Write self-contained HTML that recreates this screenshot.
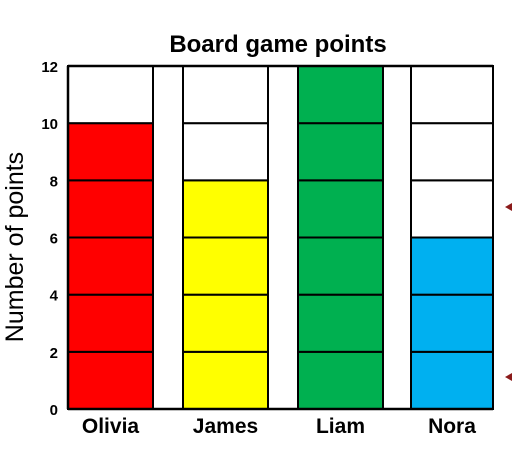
<!DOCTYPE html>
<html><head><meta charset="utf-8"><style>
body{margin:0;background:#fff;width:512px;height:462px;overflow:hidden}
svg{display:block;font-family:"Liberation Sans",Arial,sans-serif}
</style></head><body>
<svg id="chart" width="512" height="462" viewBox="0 0 512 462">
<text x="278" y="52" font-size="24" font-weight="bold" text-anchor="middle">Board game points</text>
<text transform="translate(23,247) rotate(-90)" font-size="25" text-anchor="middle">Number of points</text>
<g id="bars"></g>
<g id="ticks"></g>
<g id="xlabels"></g>
<path d="M512 203 L505 207 L512 211 Z" fill="#8b1a1a"/>
<path d="M512 373 L505 377 L512 381 Z" fill="#8b1a1a"/>
</svg>
<script>
const categories=["Olivia","James","Liam","Nora"];
const values=[10,8,12,6];
const colors=["#ff0000","#ffff00","#00b050","#00b0f0"];
const yTicks=[0,2,4,6,8,10,12];
const NS="http://www.w3.org/2000/svg";
const top0=66,bot0=409,yMax=12;
const y=v=>bot0-(v/yMax)*(bot0-top0);
const colX=[68,183,298,411],colW=[85,85,85,82];
function mk(t,a,p){const e=document.createElementNS(NS,t);for(const k in a)e.setAttribute(k,a[k]);p.appendChild(e);return e;}
const bars=document.getElementById('bars'),ticks=document.getElementById('ticks'),xl=document.getElementById('xlabels');
categories.forEach((c,i)=>{
  for(let v=0;v<yMax;v+=2){
    const filled=v<values[i];
    const r=mk('rect',{x:colX[i],y:y(v+2),width:colW[i],height:y(v)-y(v+2),fill:filled?colors[i]:'#fff',stroke:'#000','stroke-width':2},bars);
    
    
  }
  const t=mk('text',{x:colX[i]+colW[i]/2,y:433,'font-size':21,'font-weight':'bold','text-anchor':'middle'},xl);
  t.textContent=c;
  
  
});
const ax=mk('path',{d:`M68 ${top0} L493 ${top0} M68 ${bot0} L493 ${bot0} M68 ${top0} L68 ${bot0}`,stroke:'#000','stroke-width':2.5,fill:'none'},bars);


yTicks.forEach(v=>{
  const t=mk('text',{x:58,y:y(v)+6,'font-size':15,'font-weight':'bold','text-anchor':'end'},ticks);
  t.textContent=v;
  
  
});
</script>
</body></html>
